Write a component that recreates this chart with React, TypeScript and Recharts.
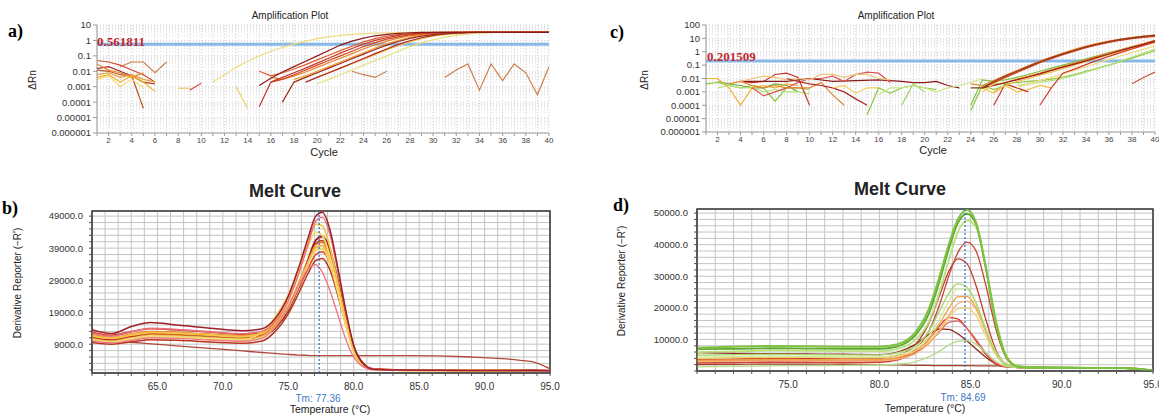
import React from "react";
import {
  CartesianGrid,
  Line,
  LineChart,
  ReferenceArea,
  ReferenceLine,
  XAxis,
  YAxis,
} from "recharts";

type Pt = [number, number];

// ---------- amplification plots (a, c): [cycle, ΔRn] ----------
const ampCycles = Array.from({ length: 40 }, (_, i) => i + 1);
const ampTicksA = [0.000001, 0.00001, 0.0001, 0.001, 0.01, 0.1, 1, 10];
const ampTicksC = [0.000001, 0.00001, 0.0001, 0.001, 0.01, 0.1, 1, 10, 100];
const thresholdA = 0.561811;
const thresholdC = 0.201509;

const ampACurves: Pt[][] = [
  [[1, 0.05], [2, 0.04], [3, 0.025], [4, 0.012], [5, 0.006], [6, 0.002]],
  [[1, 0.015], [2, 0.02], [3, 0.01], [4, 0.005], [5, 0.002], [6, 0.0015]],
  [[1, 0.012], [2, 0.01], [3, 0.006], [4, 0.005], [5, 0.00004]],
  [[1, 0.03], [2, 0.012], [3, 0.008], [4, 0.004], [5, 0.008]],
  [[1, 0.004], [2, 0.006], [3, 0.002], [4, 0.005], [5, 0.002], [6, 0.0005]],
  [[1, 0.003], [2, 0.005], [3, 0.001], [4, 0.003], [5, 0.0009]],
  [[1, 0.006], [2, 0.008], [3, 0.004], [4, 0.006], [5, 0.003], [6, 0.002]],
  [[3, 0.02], [4, 0.04], [5, 0.04], [6, 0.008], [7, 0.04]],
  [[8, 0.0008], [9, 0.0008]],
  [[9, 0.0006], [10, 0.0017]],
  [[13, 0.001], [14, 0.00004]],
  [[23, 0.01], [24, 0.006], [25, 0.004], [26, 0.01]],
  [[31, 0.004], [32, 0.012], [33, 0.03], [34, 0.0006], [35, 0.03], [36, 0.0025], [37, 0.03], [38, 0.008], [39, 0.0003], [40, 0.02]],
  [[11, 0.002], [12, 0.006], [13, 0.018], [14, 0.045], [15, 0.1], [16, 0.2], [17, 0.35], [18, 0.6], [19, 0.9], [20, 1.3], [21, 1.7], [22, 2.1], [23, 2.5], [24, 2.8], [25, 3.0], [26, 3.15], [27, 3.25], [28, 3.3], [40, 3.35]],
  [[20, 0.0015], [21, 0.003], [22, 0.006], [23, 0.012], [24, 0.025], [25, 0.05], [26, 0.1], [27, 0.2], [28, 0.4], [29, 0.7], [30, 1.1], [31, 1.6], [32, 2.1], [33, 2.6], [34, 3.0], [35, 3.2], [36, 3.3], [40, 3.35]],
  [[20, 0.004], [21, 0.008], [22, 0.016], [23, 0.03], [24, 0.06], [25, 0.12], [26, 0.24], [27, 0.45], [28, 0.8], [29, 1.3], [30, 1.9], [31, 2.4], [32, 2.8], [33, 3.1], [34, 3.3], [40, 3.35]],
  [[18, 0.003], [19, 0.005], [20, 0.01], [21, 0.02], [22, 0.04], [23, 0.08], [24, 0.16], [25, 0.32], [26, 0.6], [27, 1.0], [28, 1.6], [29, 2.2], [30, 2.7], [31, 3.05], [32, 3.25], [33, 3.3], [40, 3.35]],
  [[16, 0.004], [17, 0.003], [18, 0.005], [19, 0.009], [20, 0.018], [21, 0.036], [22, 0.07], [23, 0.14], [24, 0.28], [25, 0.52], [26, 0.9], [27, 1.4], [28, 2.0], [29, 2.5], [30, 2.9], [31, 3.2], [32, 3.3], [40, 3.35]],
  [[15, 0.01], [16, 0.005], [17, 0.008], [18, 0.014], [19, 0.027], [20, 0.055], [21, 0.11], [22, 0.22], [23, 0.42], [24, 0.8], [25, 1.3], [26, 1.9], [27, 2.4], [28, 2.8], [29, 3.1], [30, 3.3], [40, 3.35]],
  [[16, 0.002], [17, 0.003], [18, 0.006], [19, 0.012], [20, 0.025], [21, 0.05], [22, 0.1], [23, 0.2], [24, 0.4], [25, 0.72], [26, 1.2], [27, 1.7], [28, 2.3], [29, 2.7], [30, 3.0], [31, 3.2], [32, 3.3], [40, 3.35]],
  [[15, 0.00005], [16, 0.002], [17, 0.004], [18, 0.008], [19, 0.016], [20, 0.034], [21, 0.07], [22, 0.15], [23, 0.3], [24, 0.58], [25, 1.0], [26, 1.5], [27, 2.1], [28, 2.6], [29, 3.0], [30, 3.2], [31, 3.3], [40, 3.35]],
  [[19, 0.002], [20, 0.004], [21, 0.008], [22, 0.016], [23, 0.033], [24, 0.068], [25, 0.14], [26, 0.28], [27, 0.55], [28, 0.95], [29, 1.5], [30, 2.1], [31, 2.6], [32, 3.0], [33, 3.25], [34, 3.3], [40, 3.35]],
  [[17, 0.0001], [18, 0.002], [19, 0.004], [20, 0.008], [21, 0.016], [22, 0.032], [23, 0.065], [24, 0.13], [25, 0.26], [26, 0.5], [27, 0.85], [28, 1.35], [29, 1.9], [30, 2.4], [31, 2.8], [32, 3.1], [33, 3.3], [40, 3.35]],
  [[15, 0.0012], [16, 0.0035], [17, 0.009], [18, 0.02], [19, 0.045], [20, 0.1], [21, 0.22], [22, 0.5], [23, 0.9], [24, 1.4], [25, 2.0], [26, 2.5], [27, 2.9], [28, 3.15], [29, 3.3], [40, 3.35]],
];
const ampAColors = [
  "#d9472b", "#a52a1a", "#c0561e", "#e8822a", "#f0b428", "#f5d76e", "#e89a3c",
  "#cd7f4e", "#f0c75a", "#d9534f", "#f0d060", "#cd7f4e", "#cd7f4e",
  "#f0dc82", "#e6e07a", "#ecc64a", "#f0a030", "#e8822a", "#e05a2b", "#d4451f",
  "#c0392b", "#b22222", "#a0281e", "#8b1a1a",
];

const ampCCurves: Pt[][] = [
  [[1, 0.004], [2, 0.005], [3, 0.003], [4, 0.002], [5, 0.003], [6, 0.002], [7, 0.0002], [8, 0.002], [9, 0.002], [10, 0.0015]],
  [[2, 0.006], [3, 0.004], [4, 0.003], [5, 0.002], [6, 0.002], [7, 0.004], [8, 0.003], [9, 0.001]],
  [[2, 0.002], [3, 0.003], [4, 0.002], [5, 0.002], [6, 0.001], [7, 0.0015], [8, 0.001], [9, 0.001], [10, 0.0007]],
  [[1, 0.01], [2, 0.01], [3, 0.002], [4, 0.0001], [5, 0.002], [6, 0.003], [7, 0.002], [8, 0.004], [9, 0.003]],
  [[4, 0.006], [5, 0.005], [6, 0.006], [7, 0.02], [8, 0.025], [9, 0.012], [10, 0.0001]],
  [[4, 0.006], [6, 0.006], [8, 0.006], [10, 0.01], [12, 0.006], [14, 0.007], [16, 0.008], [17, 0.007], [18, 0.006], [19, 0.005], [20, 0.005], [21, 0.006], [22, 0.003], [23, 0.002]],
  [[5, 0.002], [6, 0.0005], [7, 0.001], [8, 0.002], [9, 0.005], [10, 0.01], [11, 0.01], [12, 0.015], [13, 0.006], [14, 0.02], [15, 0.03], [16, 0.025], [17, 0.005]],
  [[3, 0.004], [4, 0.006], [5, 0.003], [6, 0.002], [7, 0.003], [8, 0.002], [9, 0.002], [10, 0.002], [11, 0.005], [12, 0.0006], [13, 0.0001]],
  [[4, 0.006], [5, 0.01], [6, 0.015], [7, 0.012], [8, 0.008], [9, 0.01], [10, 0.008], [11, 0.02], [12, 0.02], [13, 0.012], [14, 0.02], [15, 0.02], [16, 0.01], [17, 0.008]],
  [[8, 0.01], [9, 0.006], [10, 0.004], [11, 0.003], [12, 0.002], [13, 0.001], [14, 0.0003], [15, 0.0001]],
  [[12, 0.002], [13, 0.003], [14, 0.0008], [15, 0.002], [16, 0.002]],
  [[15, 0.00002], [16, 0.002], [17, 0.0008], [18, 0.002], [19, 0.003], [20, 0.002], [21, 0.0015]],
  [[18, 0.0001], [19, 0.004], [20, 0.001]],
  [[16, 0.0006], [17, 0.002], [18, 0.002], [19, 0.003], [20, 0.002], [21, 0.001], [22, 0.002], [23, 0.003], [24, 0.005], [25, 0.01]],
  [[24, 0.00004], [25, 0.003], [26, 0.0015], [27, 0.003]],
  [[25, 0.002], [26, 0.0008], [27, 0.003], [28, 0.001], [29, 0.0015], [30, 0.003], [31, 0.002]],
  [[26, 0.0001], [27, 0.004], [28, 0.002], [29, 0.001]],
  [[38, 0.004], [39, 0.012], [40, 0.03]],
  [[25, 0.003], [26, 0.004], [27, 0.004], [28, 0.005], [29, 0.006], [30, 0.007], [31, 0.009], [32, 0.013], [33, 0.02], [34, 0.034], [35, 0.058], [36, 0.1], [37, 0.18], [38, 0.33], [39, 0.62], [40, 1.2]],
  [[28, 0.003], [29, 0.004], [30, 0.005], [31, 0.007], [32, 0.01], [33, 0.017], [34, 0.03], [35, 0.055], [36, 0.1], [37, 0.2], [38, 0.4], [39, 0.8], [40, 1.6]],
  [[24, 0.0001], [25, 0.008], [26, 0.006], [27, 0.008], [28, 0.012], [29, 0.02], [30, 0.035], [31, 0.06], [32, 0.1], [33, 0.17], [34, 0.3], [35, 0.5], [36, 0.85], [37, 1.4], [38, 2.3], [39, 3.5], [40, 5]],
  [[28, 0.002], [29, 0.004], [30, 0.007], [31, 0.012], [32, 0.022], [33, 0.04], [34, 0.075], [35, 0.14], [36, 0.26], [37, 0.48], [38, 0.85], [39, 1.5], [40, 2.8]],
  [[26, 0.001], [27, 0.003], [28, 0.006], [29, 0.01], [30, 0.018], [31, 0.03], [32, 0.055], [33, 0.1], [34, 0.18], [35, 0.33], [36, 0.6], [37, 1.05], [38, 1.8], [39, 3.0], [40, 5]],
  [[30, 0.0001], [31, 0.002], [32, 0.025], [33, 0.05], [34, 0.11], [35, 0.23], [36, 0.45], [37, 0.85], [38, 1.6], [39, 3.0], [40, 5.5]],
  [[26, 0.003], [27, 0.005], [28, 0.009], [29, 0.015], [30, 0.025], [31, 0.045], [32, 0.08], [33, 0.14], [34, 0.25], [35, 0.45], [36, 0.8], [37, 1.4], [38, 2.4], [39, 4], [40, 7]],
  [[25, 0.002], [26, 0.003], [27, 0.005], [28, 0.008], [29, 0.013], [30, 0.022], [31, 0.04], [32, 0.07], [33, 0.12], [34, 0.21], [35, 0.38], [36, 0.68], [37, 1.2], [38, 2.1], [39, 3.6], [40, 6.5]],
  [[25, 0.001], [26, 0.004], [27, 0.012], [28, 0.03], [29, 0.07], [30, 0.16], [31, 0.33], [32, 0.65], [33, 1.2], [34, 2.1], [35, 3.5], [36, 5.3], [37, 7.8], [38, 10.5], [39, 13], [40, 15.5]],
  [[25, 0.002], [26, 0.005], [27, 0.012], [28, 0.028], [29, 0.065], [30, 0.15], [31, 0.3], [32, 0.6], [33, 1.1], [34, 2.0], [35, 3.3], [36, 5.0], [37, 7.2], [38, 9.6], [39, 12], [40, 14]],
  [[24, 0.004], [25, 0.003], [26, 0.007], [27, 0.017], [28, 0.04], [29, 0.09], [30, 0.2], [31, 0.4], [32, 0.8], [33, 1.5], [34, 2.6], [35, 4.2], [36, 6.3], [37, 9], [38, 12], [39, 15], [40, 18]],
  [[24, 0.002], [25, 0.002], [26, 0.006], [27, 0.015], [28, 0.035], [29, 0.08], [30, 0.18], [31, 0.36], [32, 0.7], [33, 1.3], [34, 2.3], [35, 3.8], [36, 5.8], [37, 8.5], [38, 11], [39, 14], [40, 17]],
];
const ampCColors = [
  "#8cc63f", "#6cb33e", "#b5e07a", "#f0b030", "#c0392b", "#8b1a1a", "#d9534f",
  "#e8822a", "#f3c37a", "#a52a2a", "#f0d060", "#8cc63f", "#9bd05a", "#c8e68c",
  "#8cc63f", "#f0c040", "#c0392b", "#c0563a",
  "#8cc63f", "#b5e07a", "#7cc33e", "#f0dc82", "#f0c040", "#d43a2a", "#e8822a",
  "#9b1c1c", "#f5c542", "#d43a2a", "#e8822a", "#8b3a1a",
];

// ---------- melt curves (b, d): derivative reporter vs temperature ----------
const meltTempsB = [60, 61.5, 63, 64.5, 66.5, 69, 71.5, 73, 74, 75, 75.8, 76.5, 77.1, 77.6, 78.2, 78.8, 79.4, 80, 80.7, 81.5, 84, 89, 93.5, 95];
const meltB: number[][] = [
  [10300, 10000, 9600, 9100, 8500, 7700, 6900, 6400, 6100, 5800, 5600, 5500, 5400, 5400, 5400, 5400, 5400, 5400, 5400, 5400, 5400, 5000, 3600, 1300],
  [12800, 11800, 13000, 13800, 13400, 12700, 12100, 12600, 15000, 20000, 26500, 32500, 37000, 37900, 34000, 25500, 16000, 7500, 2800, 1200, 900, 800, 750, 700],
  [9500, 9000, 9700, 10400, 10200, 9700, 9300, 10000, 13000, 18500, 25000, 31000, 35200, 35800, 32000, 24000, 15000, 7200, 2800, 1200, 900, 800, 750, 700],
  [11200, 10400, 11500, 12400, 12200, 11600, 11100, 11800, 14600, 19800, 27000, 34500, 40500, 41400, 37000, 27500, 17000, 8000, 3000, 1200, 900, 800, 750, 700],
  [12000, 11000, 12200, 13000, 12700, 12100, 11600, 12300, 15300, 20800, 28000, 35500, 41500, 42400, 37500, 27800, 17200, 8000, 3000, 1200, 900, 800, 750, 700],
  [10800, 10100, 11100, 12000, 11800, 11200, 10700, 11400, 14000, 19500, 27000, 35000, 41500, 42800, 38500, 29000, 18000, 8500, 3200, 1300, 900, 800, 750, 700],
  [10800, 10000, 11000, 11900, 11700, 11100, 10600, 11600, 14800, 20500, 27500, 34500, 40000, 40800, 36000, 26500, 16200, 7500, 2800, 1200, 900, 800, 750, 700],
  [11800, 11000, 12000, 12800, 12600, 12000, 11500, 12400, 15500, 21000, 28000, 34500, 39200, 39800, 35000, 25500, 15500, 7000, 2600, 1100, 850, 750, 700, 650],
  [10200, 9600, 10500, 11300, 11100, 10600, 10200, 11200, 14500, 20200, 27200, 33800, 38300, 38800, 34000, 24800, 15000, 6800, 2500, 1100, 850, 750, 700, 650],
  [10500, 9800, 10800, 11600, 11400, 10900, 10500, 12800, 17500, 24500, 32500, 39500, 44000, 43000, 36000, 25500, 15000, 6500, 2300, 1100, 850, 750, 700, 650],
  [11500, 10800, 11800, 12600, 12400, 11800, 11300, 12500, 16500, 23500, 32000, 40500, 46500, 46000, 39000, 28000, 16500, 7000, 2500, 1100, 850, 750, 700, 650],
  [10000, 9400, 10200, 11000, 10800, 10300, 9900, 10800, 14500, 20500, 27500, 32500, 33800, 31500, 25500, 18000, 10500, 5000, 2000, 1000, 850, 750, 700, 650],
  [12500, 11500, 12800, 14000, 13600, 12900, 12300, 13000, 16000, 22500, 31000, 40000, 47500, 48600, 43000, 31500, 19000, 8500, 3000, 1200, 900, 800, 750, 700],
  [13500, 12300, 14500, 15800, 15000, 14000, 13200, 13800, 17000, 24000, 33000, 42000, 49000, 50200, 44500, 32500, 19500, 8500, 3000, 1200, 900, 800, 750, 700],
];
const meltBColors = [
  "#b0483c", "#d9402a", "#b8321c", "#c8321e", "#e0602a", "#8b1a1a", "#ec8a2c",
  "#f3b33d", "#efd56a", "#f2dc78", "#f5c542", "#ee7a82", "#e8707a", "#9e1f2a",
];
const meltBWidths = [1.3, 1.5, 1.5, 1.5, 1.5, 1.5, 1.6, 1.7, 1.7, 1.7, 1.7, 1.4, 1.4, 1.5];

const meltTempsD = [70, 72, 74, 76, 78, 80, 81, 82, 82.7, 83.3, 83.8, 84.3, 84.8, 85.3, 85.8, 86.4, 87, 87.6, 88.5, 91, 93.5, 95];
const meltD: number[][] = [
  [2000, 2100, 2200, 2200, 2100, 2000, 1900, 1800, 1750, 1700, 1700, 1700, 1700, 1650, 1650, 1600, 1550, 1500, 1300, 1100, 1000, 300],
  [5800, 5600, 5500, 5400, 5300, 5200, 6000, 8500, 11500, 13300, 13200, 11800, 9500, 7000, 4500, 2200, 1300, 1100, 1000, 950, 850, 100],
  [2500, 2600, 2700, 2700, 2600, 2700, 3500, 6000, 10000, 14300, 16900, 16500, 13500, 9500, 5500, 2200, 1200, 1100, 1000, 950, 850, 100],
  [3200, 3300, 3400, 3300, 3200, 3300, 3900, 5800, 8800, 12500, 15400, 15800, 13500, 10000, 6000, 2500, 1300, 1100, 1000, 950, 850, 100],
  [3600, 3800, 4000, 4000, 3900, 4000, 5000, 8500, 15000, 24000, 31500, 35500, 34000, 27000, 17000, 6500, 2000, 1200, 1100, 1000, 900, 100],
  [2800, 2700, 2900, 2800, 2700, 2900, 3800, 7000, 12500, 21000, 30000, 37500, 40800, 38000, 28000, 13000, 3800, 1400, 1100, 1000, 900, 100],
  [3400, 3500, 3700, 3600, 3500, 3600, 4300, 6500, 10000, 15000, 19800, 23500, 23600, 20000, 13000, 5500, 1800, 1200, 1100, 1000, 900, 100],
  [3000, 3100, 3200, 3200, 3100, 3200, 3800, 5600, 8600, 13000, 17500, 21300, 22100, 19500, 13000, 5500, 1800, 1200, 1100, 1000, 900, 100],
  [4000, 4200, 4300, 4300, 4200, 4200, 4800, 6500, 9200, 13000, 16800, 19700, 20000, 17500, 11500, 5000, 1700, 1200, 1100, 1000, 900, 100],
  [1300, 1500, 1600, 1700, 1800, 1900, 2200, 3000, 4500, 6300, 8200, 9400, 9600, 8500, 6000, 3000, 1400, 1100, 1000, 950, 850, 100],
  [4400, 4600, 4700, 4600, 4500, 4500, 5200, 7200, 11000, 16500, 22000, 26000, 25800, 21500, 14000, 6000, 2000, 1200, 1100, 1000, 900, 100],
  [5000, 5200, 5300, 5200, 5100, 5100, 5800, 8000, 12500, 19000, 24500, 27600, 26500, 21500, 13500, 5500, 1800, 1200, 1100, 1000, 900, 100],
  [6000, 6200, 6500, 6400, 6300, 6300, 7000, 10000, 15500, 25000, 35000, 44000, 47700, 45500, 34000, 16000, 4500, 1500, 1100, 1000, 900, 100],
  [6900, 7000, 7200, 7100, 7000, 7000, 7800, 11500, 18000, 28500, 38500, 46800, 49800, 46500, 33500, 15000, 4000, 1400, 1100, 1000, 900, 100],
  [7400, 7700, 7900, 7800, 7700, 7700, 8500, 12500, 19500, 30000, 40000, 48000, 51000, 47000, 34000, 15000, 4000, 1400, 1100, 1000, 900, 100],
];
const meltDColors = [
  "#a0402a", "#8b2a1a", "#d43a2a", "#e06a58", "#c0392b", "#c8443a", "#f0a040",
  "#f5b070", "#f0d070", "#b5dc8a", "#cfe8a0", "#a8d86a", "#b9e27c", "#5fa82e", "#7cc33e",
];
const meltDWidths = [1.2, 1.3, 1.3, 1.3, 1.3, 1.3, 1.3, 1.3, 1.3, 1.3, 1.3, 1.4, 1.8, 1.8, 2];

const tmB = 77.36;
const tmD = 84.69;
const meltBXTicks = Array.from({ length: 36 }, (_, i) => 60 + i);
const meltBXLabels = [65, 70, 75, 80, 85, 90, 95];
const meltBYTicks = Array.from({ length: 25 }, (_, i) => 1000 + i * 2000);
const meltBYLabels = [9000, 19000, 29000, 39000, 49000];
const meltDXTicks = Array.from({ length: 26 }, (_, i) => 70 + i);
const meltDXLabels = [75, 80, 85, 90, 95];
const meltDYTicks = Array.from({ length: 26 }, (_, i) => i * 2000);
const meltDYLabels = [10000, 20000, 30000, 40000, 50000];

const SANS = '"Liberation Sans", Arial, sans-serif';
const SERIF = '"Liberation Serif", "Times New Roman", serif';

function Txt({ x, y, children, size = 10, color = "#222", weight = 400, family = SANS, rotate = false, align = "center" }: any) {
  const tx = align === "left" ? "0" : "-50%";
  return (
    <div
      style={{
        position: "absolute",
        left: x,
        top: y,
        transform: `translate(${tx}, -50%)${rotate ? " rotate(-90deg)" : ""}`,
        fontSize: size,
        lineHeight: 1,
        color,
        fontWeight: weight,
        fontFamily: family,
        whiteSpace: "nowrap",
      }}
    >
      {children}
    </div>
  );
}

function AmpPanel({ left, top, width, height, mTop, mRight, yWidth, xHeight, ticks, curves, colors, threshold }: any) {
  const minor: number[] = [];
  ticks.slice(0, -1).forEach((d: number) => {
    for (let m = 2; m <= 9; m++) minor.push(d * m);
  });
  return (
    <div style={{ position: "absolute", left, top }}>
      <LineChart width={width} height={height} margin={{ top: mTop, right: mRight, bottom: 0, left: 0 }}>
        <CartesianGrid stroke="#cfcfcf" strokeDasharray="1 2" />
        {minor.map((v, i) => (
          <ReferenceLine key={"m" + i} y={v} stroke="#e2e2e2" strokeDasharray="1 2" />
        ))}
        <XAxis
          type="number"
          dataKey="x"
          domain={[1, 40]}
          ticks={ampCycles}
          interval={0}
          allowDataOverflow
          height={xHeight}
          tickSize={3}
          tickMargin={1}
          stroke="#9a9a9a"
          tick={{ fontSize: 8, fill: "#444", fontFamily: SANS }}
          tickFormatter={(v: number) => (v % 2 === 0 ? String(v) : "")}
        />
        <YAxis
          type="number"
          scale="log"
          domain={[ticks[0], ticks[ticks.length - 1]]}
          ticks={ticks}
          interval={0}
          allowDataOverflow
          width={yWidth}
          tickSize={4}
          tickMargin={2}
          stroke="#9a9a9a"
          tick={{ fontSize: 9.5, fill: "#333", fontFamily: SANS }}
          tickFormatter={(v: number) => String(v)}
        />
        <ReferenceLine y={threshold} stroke="#86b8e8" strokeWidth={3} />
        {curves.map((pts: Pt[], i: number) => (
          <Line
            key={i}
            data={pts.map(([x, y]) => ({ x, y }))}
            dataKey="y"
            type="linear"
            stroke={colors[i]}
            strokeWidth={1.2}
            dot={false}
            isAnimationActive={false}
          />
        ))}
      </LineChart>
    </div>
  );
}

function MeltPanel({ left, top, width, height, mTop, mRight, yWidth, xHeight, temps, curves, colors, widths, xDomain, xTicks, xLabels, yDomain, yTicks, yLabels, tm }: any) {
  const rows = temps.map((t: number, i: number) => {
    const r: Record<string, number> = { t };
    curves.forEach((c: number[], k: number) => (r["c" + k] = c[i]));
    return r;
  });
  return (
    <div style={{ position: "absolute", left, top }}>
      <LineChart width={width} height={height} data={rows} margin={{ top: mTop, right: mRight, bottom: 0, left: 0 }}>
        <CartesianGrid stroke="#c4c4c4" />
        <XAxis
          type="number"
          dataKey="t"
          domain={xDomain}
          ticks={xTicks}
          interval={0}
          allowDataOverflow
          height={xHeight}
          tickSize={3}
          tickMargin={7}
          stroke="#555"
          tick={{ fontSize: 10, fill: "#333", fontFamily: SANS }}
          tickFormatter={(v: number) => (xLabels.includes(v) ? v.toFixed(1) : "")}
        />
        <YAxis
          type="number"
          domain={yDomain}
          ticks={yTicks}
          interval={0}
          allowDataOverflow
          width={yWidth}
          tickSize={3}
          tickMargin={6}
          stroke="#555"
          tick={{ fontSize: 9.5, fill: "#333", fontFamily: SANS }}
          tickFormatter={(v: number) => (yLabels.includes(v) ? v.toFixed(1) : "")}
        />
        {curves.map((_: number[], k: number) => (
          <Line
            key={k}
            dataKey={"c" + k}
            type="monotone"
            stroke={colors[k]}
            strokeWidth={widths[k]}
            dot={false}
            isAnimationActive={false}
          />
        ))}
        <ReferenceLine x={tm} stroke="#2f6fc8" strokeWidth={1.2} strokeDasharray="2 2" />
        <ReferenceArea x1={xDomain[0]} x2={xDomain[1]} y1={yDomain[0]} y2={yDomain[1]} fill="none" stroke="#333" strokeWidth={1.5} />
      </LineChart>
    </div>
  );
}

export default function App() {
  return (
    <div style={{ position: "absolute", left: 0, top: 0, width: 1159, height: 418, background: "#fff", overflow: "hidden" }}>
      <AmpPanel left={0} top={0} width={560} height={170} mTop={25} mRight={11} yWidth={97} xHeight={37}
        ticks={ampTicksA} curves={ampACurves} colors={ampAColors} threshold={thresholdA} />
      <AmpPanel left={580} top={0} width={579} height={170} mTop={25} mRight={4} yWidth={126} xHeight={38}
        ticks={ampTicksC} curves={ampCCurves} colors={ampCColors} threshold={thresholdC} />
      <MeltPanel left={0} top={170} width={580} height={248} mTop={41} mRight={30} yWidth={92} xHeight={45}
        temps={meltTempsB} curves={meltB} colors={meltBColors} widths={meltBWidths} xDomain={[60, 95]} xTicks={meltBXTicks} xLabels={meltBXLabels}
        yDomain={[0, 50600]} yTicks={meltBYTicks} yLabels={meltBYLabels} tm={tmB} />
      <MeltPanel left={580} top={170} width={579} height={248} mTop={39} mRight={6} yWidth={117} xHeight={47}
        temps={meltTempsD} curves={meltD} colors={meltDColors} widths={meltDWidths} xDomain={[70, 95]} xTicks={meltDXTicks} xLabels={meltDXLabels}
        yDomain={[0, 51300]} yTicks={meltDYTicks} yLabels={meltDYLabels} tm={tmD} />

      {/* panel letters */}
      <Txt x={8} y={31} size={18} weight={700} family={SERIF} color="#000" align="left">a)</Txt>
      <Txt x={610} y={32} size={18} weight={700} family={SERIF} color="#000" align="left">c)</Txt>
      <Txt x={2} y={208} size={18} weight={700} family={SERIF} color="#000" align="left">b)</Txt>
      <Txt x={613} y={205} size={18} weight={700} family={SERIF} color="#000" align="left">d)</Txt>

      {/* amplification texts */}
      <Txt x={290} y={16} size={10}>Amplification Plot</Txt>
      <Txt x={896} y={16} size={10}>Amplification Plot</Txt>
      <Txt x={324} y={152} size={11}>Cycle</Txt>
      <Txt x={933} y={150} size={11}>Cycle</Txt>
      <Txt x={33} y={80} size={10} rotate>ΔRn</Txt>
      <Txt x={645} y={80} size={10} rotate>ΔRn</Txt>
      <Txt x={97} y={41} size={13} weight={700} family={SERIF} color="#c0272d" align="left">{String(thresholdA)}</Txt>
      <Txt x={707} y={56} size={13} weight={700} family={SERIF} color="#c0272d" align="left">{String(thresholdC)}</Txt>

      {/* melt texts */}
      <Txt x={295} y={191} size={18} weight={700}>Melt Curve</Txt>
      <Txt x={900} y={189} size={18} weight={700}>Melt Curve</Txt>
      <Txt x={18} y={283} size={10} rotate>Derivative Reporter (−R')</Txt>
      <Txt x={622} y={281} size={10} rotate>Derivative Reporter (−R')</Txt>
      <Txt x={318} y={399} size={10} color="#3c78c8">Tm: {tmB}</Txt>
      <Txt x={963} y={398} size={10} color="#3c78c8">Tm: {tmD}</Txt>
      <Txt x={330} y={409} size={10.5}>Temperature (°C)</Txt>
      <Txt x={925} y={408} size={10.5}>Temperature (°C)</Txt>
    </div>
  );
}
